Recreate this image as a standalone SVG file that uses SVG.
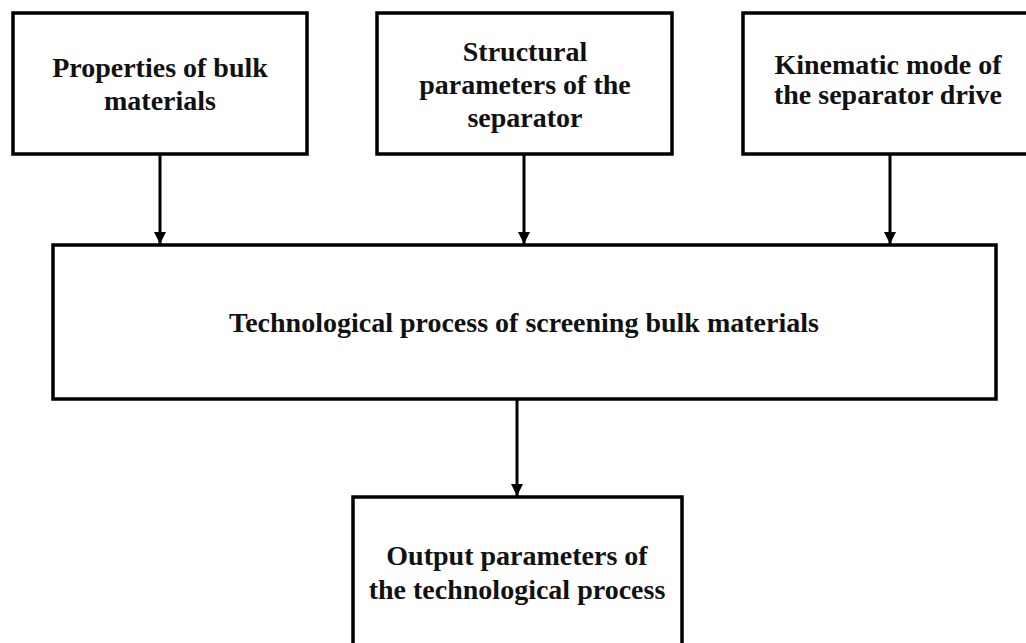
<svg xmlns="http://www.w3.org/2000/svg" width="1026" height="643" viewBox="0 0 1026 643">
<defs>
<style>
.box{fill:#fff;stroke:#000;stroke-width:3.5}
.t{font-family:"Liberation Serif","Times New Roman",serif;font-weight:bold;font-size:28px;fill:#111;text-anchor:middle}
.c{stroke:#000;stroke-width:3;fill:none;marker-end:url(#ah)}
</style>
<marker id="ah" markerUnits="userSpaceOnUse" markerWidth="12" markerHeight="12" refX="12" refY="6" orient="auto">
<path d="M0,0 L12,6 L0,12 z" fill="#000"/>
</marker>
</defs>
<rect width="1026" height="643" fill="#fff"/>
<g id="connectors">
<line class="c" x1="160" y1="154" x2="160" y2="244"/>
<line class="c" x1="524" y1="154" x2="524" y2="244"/>
<line class="c" x1="890" y1="154" x2="890" y2="244"/>
<line class="c" x1="517" y1="399" x2="517" y2="496"/>
</g>
<g id="node-properties">
<rect class="box" x="13" y="13" width="294" height="141"/>
<text class="t" x="160" y="77">Properties of bulk</text>
<text class="t" x="160" y="110">materials</text>
</g>
<g id="node-structural">
<rect class="box" x="377" y="13" width="295" height="141"/>
<text class="t" x="525" y="61">Structural</text>
<text class="t" x="525" y="94">parameters of the</text>
<text class="t" x="525" y="127">separator</text>
</g>
<g id="node-kinematic">
<rect class="box" x="743" y="13" width="295" height="141"/>
<text class="t" x="888" y="74">Kinematic mode of</text>
<text class="t" x="888" y="104">the separator drive</text>
</g>
<g id="node-process">
<rect class="box" x="53" y="245" width="943" height="154"/>
<text class="t" x="524" y="332">Technological process of screening bulk materials</text>
</g>
<g id="node-output">
<rect class="box" x="353" y="497" width="329" height="170"/>
<text class="t" x="517" y="565">Output parameters of</text>
<text class="t" x="517" y="599">the technological process</text>
</g>
</svg>
